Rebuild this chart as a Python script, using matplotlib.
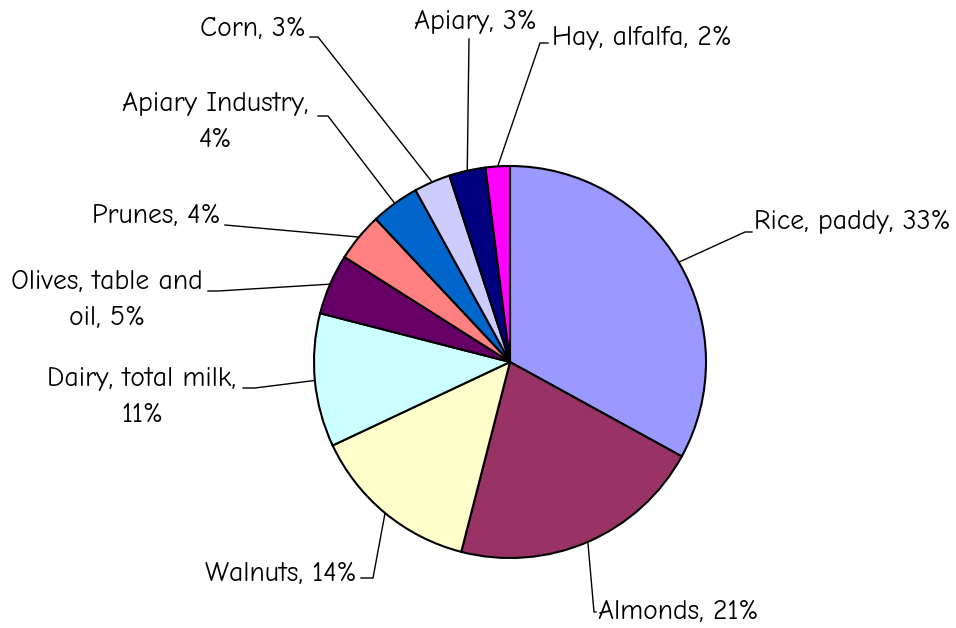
import numpy as np
import matplotlib.pyplot as plt

# slices, clockwise from 12 o'clock
labels = ["Rice, paddy", "Almonds", "Walnuts", "Dairy, total milk", "Olives, table and oil",
          "Prunes", "Apiary Industry", "Corn", "Apiary", "Hay, alfalfa"]
shares = [33, 21, 14, 11, 5, 4, 4, 3, 3, 2]
colors = ["#9999FF", "#993366", "#FFFFCC", "#CCFFFF", "#660066",
          "#FF8080", "#0066CC", "#CCCCFF", "#000080", "#FF00FF"]
label_texts = ["Rice, paddy, 33%", "Almonds, 21%", "Walnuts, 14%", "Dairy, total milk,\n11%",
               "Olives, table and\noil, 5%", "Prunes, 4%", "Apiary Industry,\n4%", "Corn, 3%",
               "Apiary, 3%", "Hay, alfalfa, 2%"]

W, H = 956, 628
cx, cy, R = 510, H - 362, 196

# layout: (elbow x, elbow y, end x, text x, text y, ha) in pixel coords from top-left
layout = [
    (745, 232, 752, 754, 222, "left"),
    (594, 612, 596, 598, 612, "left"),
    (373, 578, 361, 357, 574, "right"),
    (255, 388, 243, 142, 397, "center"),
    (218, 291, 208, 107, 300, "center"),
    (225, 225, 225, 221, 216, "right"),
    (328, 116, 318, 215, 122, "center"),
    (318, 37, 310, 306, 29, "right"),
    (469, 39, 469, 475, 22, "center"),
    (540, 43, 548, 552, 38, "left"),
]

plt.rcParams['font.family'] = ['Comic Neue', 'Lato', 'DejaVu Sans']
fig = plt.figure(figsize=(W / 100, H / 100), dpi=100)
ax = fig.add_axes([0, 0, 1, 1])

ax.pie(shares, colors=colors, startangle=90, counterclock=False, center=(cx, cy), radius=R,
       wedgeprops=dict(edgecolor='black', linewidth=1.5), frame=True)
ax.set_xlim(0, W)
ax.set_ylim(0, H)
ax.set_aspect('equal')
ax.axis('off')

total = sum(shares)
start = 90.0
for s, txt, (ex, ey, endx, tx, ty, ha) in zip(shares, label_texts, layout):
    mid = np.deg2rad(start - s / total * 360 / 2)
    start -= s / total * 360
    px, py = cx + R * np.cos(mid), cy + R * np.sin(mid)
    ax.plot([px, ex, endx], [py, H - ey, H - ey], color='black', lw=1)
    ax.text(tx, H - ty, txt, ha=ha, va='center', fontsize=20, linespacing=1.6)

fig.savefig("out.png", dpi=100)
